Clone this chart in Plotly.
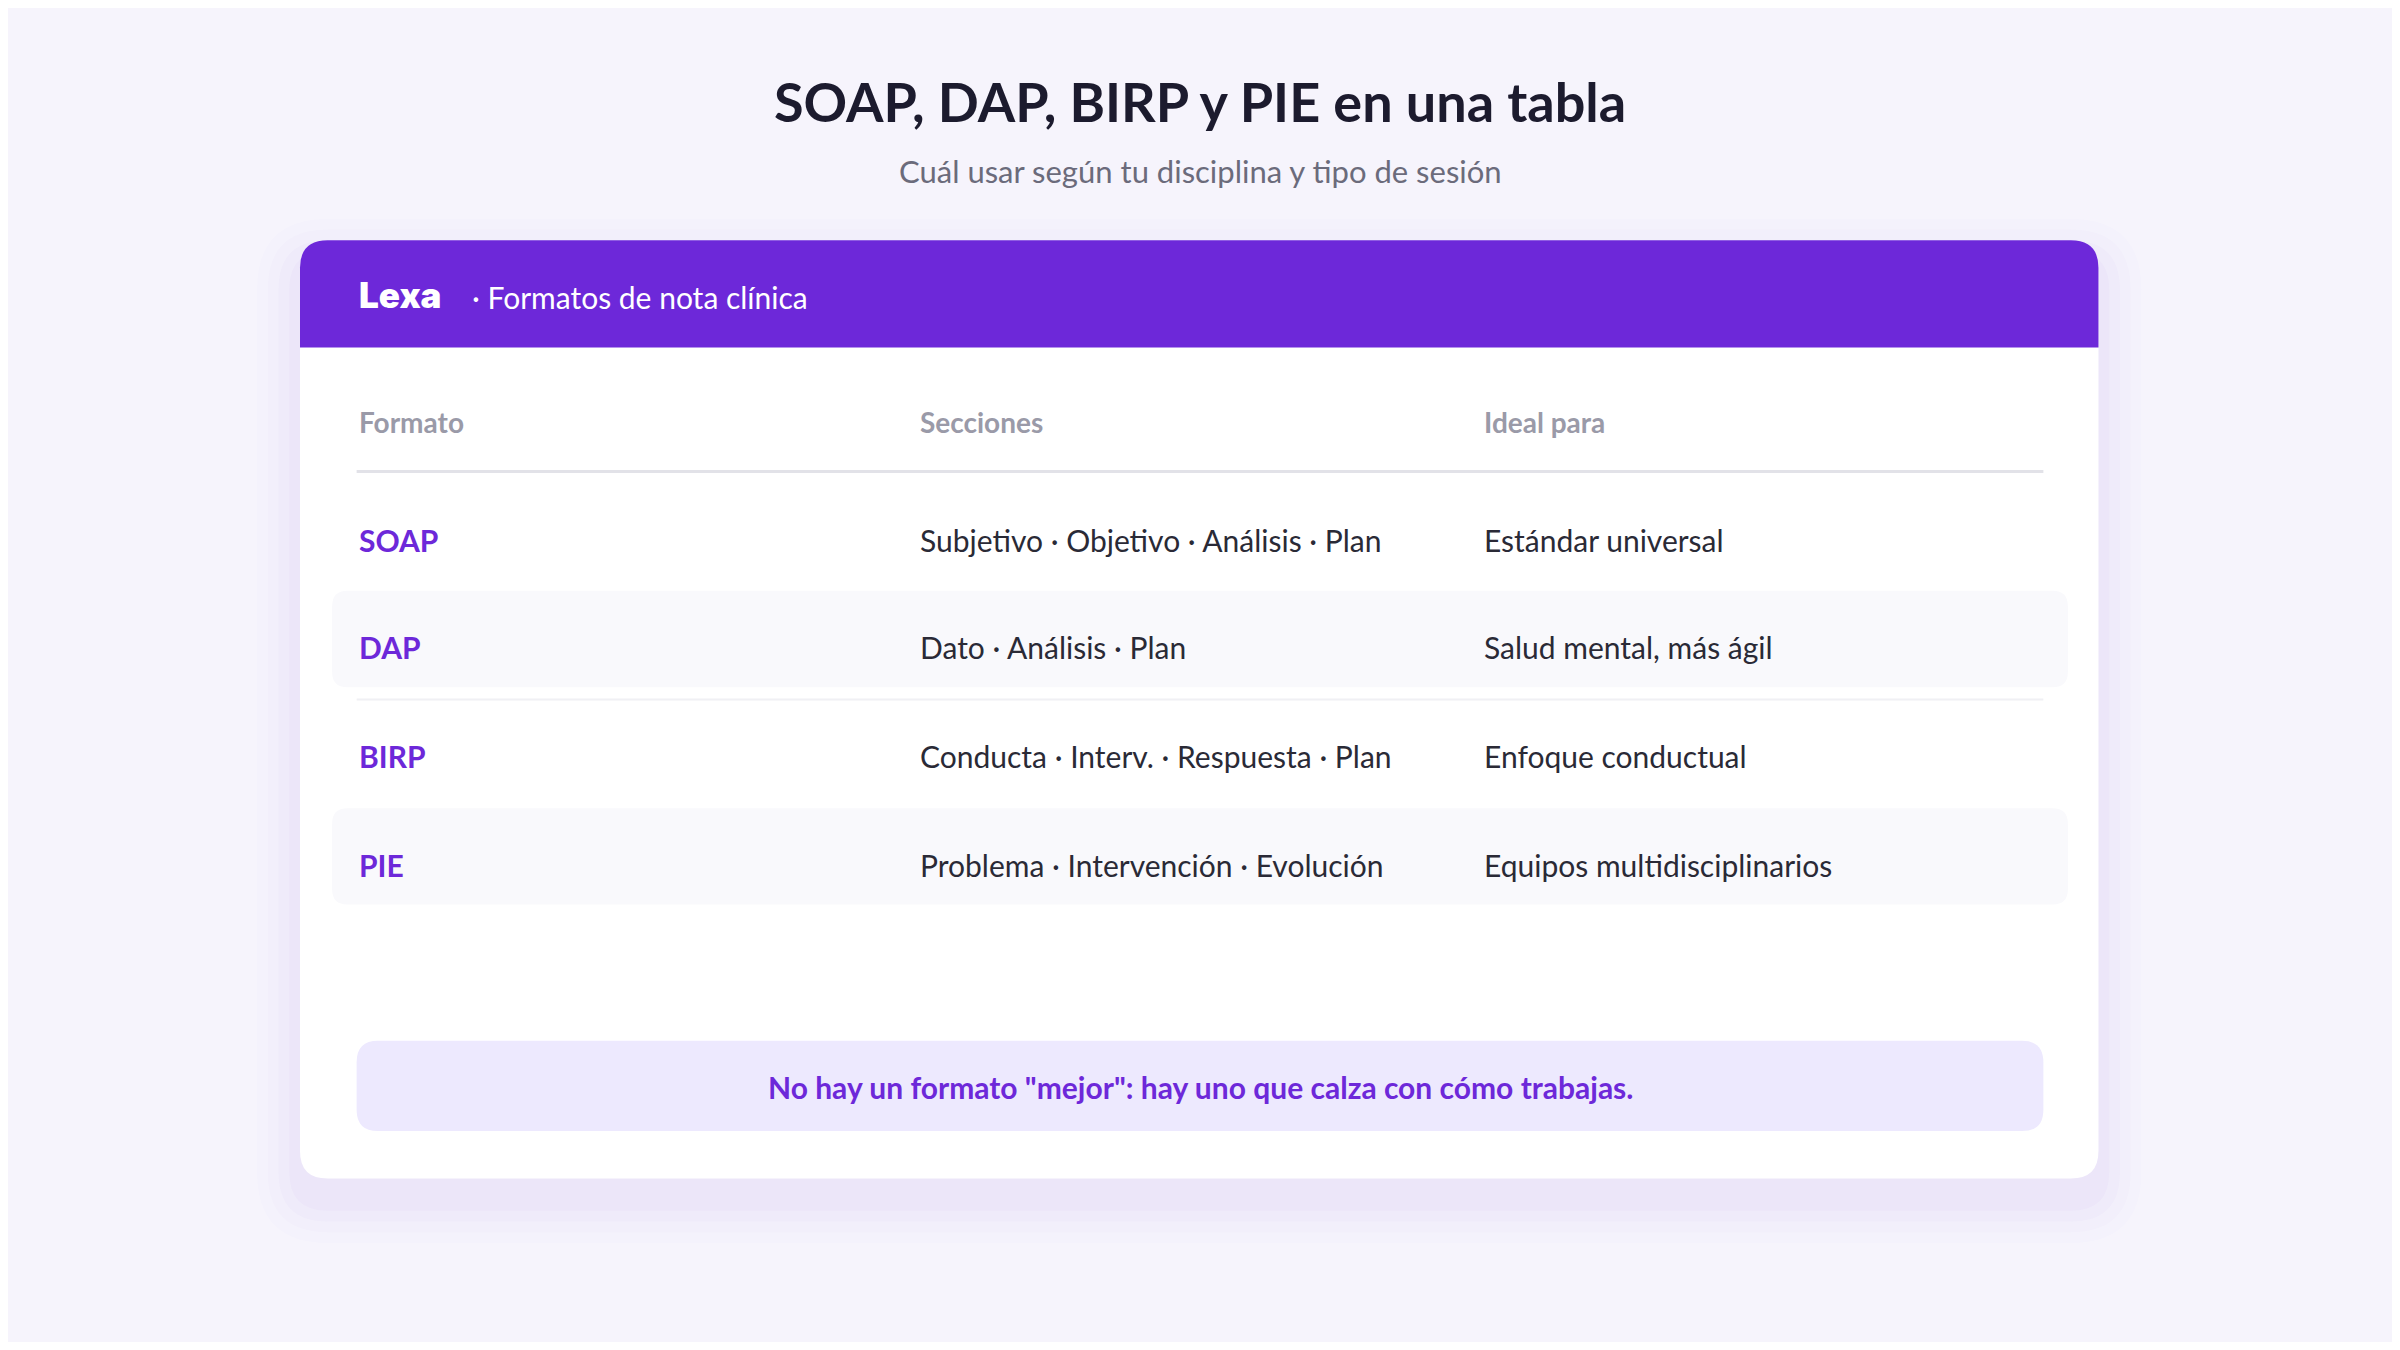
import plotly.graph_objects as go

title = "SOAP, DAP, BIRP y PIE en una tabla"
subtitle = "Cuál usar según tu disciplina y tipo de sesión"
brand = "Lexa"
brand_sub = "· Formatos de nota clínica"
headers = ["Formato", "Secciones", "Ideal para"]
formats = ["SOAP", "DAP", "BIRP", "PIE"]
sections = ["Subjetivo · Objetivo · Análisis · Plan", "Dato · Análisis · Plan",
            "Conducta · Interv. · Respuesta · Plan", "Problema · Intervención · Evolución"]
ideal = ["Estándar universal", "Salud mental, más ágil", "Enfoque conductual", "Equipos multidisciplinarios"]
footer = 'No hay un formato "mejor": hay uno que calza con cómo trabajas.'

S = 2400 / 1568
OFF = 8
W, H = 2400 - 2 * OFF, 1350 - 2 * OFF
P = lambda v: v * S - OFF
FONT = "Lato"

def rrect(x0, y0, x1, y1, r, top_only=False):
    x0, y0, x1, y1 = map(P, (x0, y0, x1, y1))
    r = r * S
    if top_only:
        return (f"M{x0},{y1} L{x0},{y0+r} Q{x0},{y0} {x0+r},{y0} L{x1-r},{y0} "
                f"Q{x1},{y0} {x1},{y0+r} L{x1},{y1} Z")
    return (f"M{x0+r},{y0} L{x1-r},{y0} Q{x1},{y0} {x1},{y0+r} L{x1},{y1-r} Q{x1},{y1} {x1-r},{y1} "
            f"L{x0+r},{y1} Q{x0},{y1} {x0},{y1-r} L{x0},{y0+r} Q{x0},{y0} {x0+r},{y0} Z")

shapes = []
for i, a in enumerate([0.012, 0.015, 0.018, 0.022]):
    g = 28 - i * 7
    shapes.append(dict(type="path", path=rrect(196 - g, 157 - g + 14, 1371 + g, 770 + g + 14, 18 + g),
                       fillcolor=f"rgba(110,60,220,{a})", line_width=0, layer="below"))
shapes.append(dict(type="path", path=rrect(196, 157, 1371, 770, 18), fillcolor="white", line_width=0))
shapes.append(dict(type="path", path=rrect(196, 157, 1371, 227, 18, top_only=True), fillcolor="#6d28d9", line_width=0))
shapes.append(dict(type="line", x0=P(233), x1=P(1335), y0=P(308), y1=P(308), line=dict(color="#e2e2e8", width=3)))
row_y = [353, 423, 494, 565]
for i, y in enumerate(row_y):
    if i % 2 == 1:
        shapes.append(dict(type="path", path=rrect(217, y - 37, 1351, y + 26, 10), fillcolor="#f9f9fc", line_width=0))
shapes.append(dict(type="line", x0=P(233), x1=P(1335), y0=P(457), y1=P(457), line=dict(color="#f0f0f4", width=2)))
shapes.append(dict(type="path", path=rrect(233, 680, 1335, 739, 14), fillcolor="#ede9fe", line_width=0))

ann = []
def t(x, y, text, size, color, bold=False, xa="left", font=FONT):
    ann.append(dict(x=P(x), y=P(y), text=f"<b>{text}</b>" if bold else text, showarrow=False, xanchor=xa,
                    yanchor="middle", font=dict(family=font, size=size, color=color)))

t(784, 66, title, 54, "#1c1b2e", True, "center")
t(784, 112, subtitle, 31, "#6b6b7b", False, "center")
ann.append(dict(x=P(233), y=P(193), text=brand, showarrow=False, xanchor="left", yanchor="middle",
                font=dict(family="Inter", size=35, color="white", weight=900)))
t(307, 194, brand_sub, 30, "white")
cols = [233, 600, 968]
for c, h in zip(cols, headers):
    t(c, 276, h, 28, "#9a9aa8", True)
for i, y in enumerate(row_y):
    t(cols[0], y, formats[i], 30, "#6d28d9", True)
    t(cols[1], y, sections[i], 30, "#2a2a36")
    t(cols[2], y, ideal[i], 30, "#2a2a36")
t(784, 710, footer, 30, "#6d28d9", True, "center")

fig = go.Figure()
fig.update_layout(width=W, height=H, margin=dict(l=0, r=0, t=0, b=0),
                  paper_bgcolor="#f6f4fc", plot_bgcolor="#f6f4fc",
                  xaxis=dict(range=[0, W], visible=False, fixedrange=True),
                  yaxis=dict(range=[H, 0], visible=False, fixedrange=True),
                  shapes=shapes, annotations=ann, showlegend=False)
fig.write_html("out.html")
